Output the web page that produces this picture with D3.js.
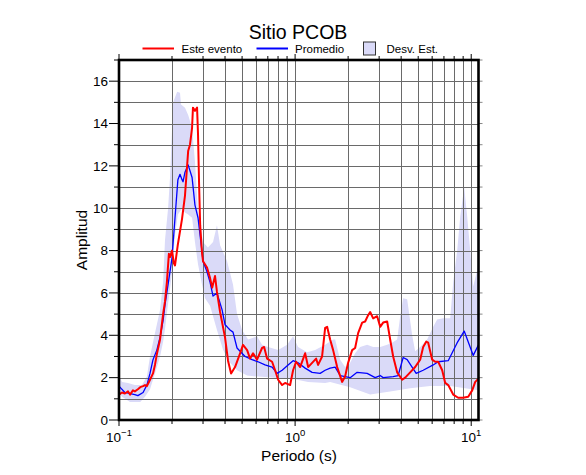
<!DOCTYPE html>
<html>
<head>
<meta charset="utf-8">
<script src="https://cdn.jsdelivr.net/npm/d3@7/dist/d3.min.js"></script>
<style>
  body { margin: 0; background: #fff; }
  svg { display: block; font-family: "Liberation Sans", Arial, Helvetica, sans-serif; }
</style>
</head>
<body>
<div id="chart"></div>
<script>
// Este evento (red)
const eventPeriod = [0.100, 0.104, 0.108, 0.1125, 0.1155, 0.12, 0.123, 0.128, 0.132, 0.137, 0.1405, 0.144, 0.150, 0.156, 0.160, 0.164, 0.171, 0.178, 0.1825, 0.187, 0.192, 0.195, 0.200, 0.205, 0.208, 0.216, 0.228, 0.237, 0.247, 0.253, 0.260, 0.263, 0.270, 0.2775, 0.281, 0.285, 0.289, 0.296, 0.300, 0.316, 0.329, 0.338, 0.351, 0.360, 0.375, 0.400, 0.416, 0.433, 0.456, 0.487, 0.506, 0.534, 0.555, 0.577, 0.608, 0.649, 0.667, 0.693, 0.740, 0.770, 0.801, 0.844, 0.877, 0.937, 0.974, 1.013, 1.068, 1.140, 1.186, 1.249, 1.316, 1.351, 1.423, 1.481, 1.520, 1.581, 1.644, 1.733, 1.849, 1.923, 2.000, 2.108, 2.192, 2.280, 2.403, 2.499, 2.599, 2.668, 2.775, 2.924, 3.041, 3.162, 3.332, 3.466, 3.604, 3.797, 4.055, 4.217, 4.502, 4.806, 5.131, 5.337, 5.551, 5.698, 6.003, 6.244, 6.494, 6.843, 7.118, 7.404, 7.902, 8.435, 9.005, 9.616, 10.13, 10.54, 11.0];
const eventAmp = [1.2, 1.3, 1.25, 1.35, 1.2, 1.4, 1.35, 1.45, 1.55, 1.6, 1.65, 1.6, 1.9, 2.2, 2.6, 3.1, 3.8, 5.0, 5.6, 6.5, 7.85, 7.7, 8.0, 7.4, 7.3, 8.3, 9.5, 10.6, 12.7, 13.0, 13.8, 14.75, 14.6, 14.75, 13.5, 11.1, 9.2, 7.9, 7.5, 7.2, 6.7, 6.25, 6.8, 6.05, 5.1, 3.9, 2.8, 2.2, 2.5, 3.15, 3.55, 3.3, 2.9, 3.15, 2.85, 3.4, 3.45, 2.9, 2.75, 2.35, 1.9, 1.65, 1.75, 1.65, 2.35, 2.75, 2.5, 3.15, 2.5, 2.7, 2.9, 2.6, 3.0, 4.35, 4.4, 3.8, 3.3, 2.5, 1.8, 2.05, 2.7, 3.3, 3.4, 4.1, 4.6, 4.65, 4.95, 5.1, 4.8, 4.9, 4.4, 4.6, 4.65, 3.8, 3.0, 2.25, 1.9, 2.0, 2.25, 2.5, 2.85, 3.45, 3.7, 3.65, 2.85, 2.75, 2.75, 2.35, 1.75, 1.65, 1.2, 1.05, 1.05, 1.1, 1.4, 1.8, 1.95];

// Promedio (blue)
const meanPeriod = [0.100, 0.108, 0.123, 0.128, 0.137, 0.144, 0.150, 0.156, 0.164, 0.171, 0.178, 0.1825, 0.190, 0.200, 0.208, 0.216, 0.222, 0.228, 0.231, 0.237, 0.247, 0.260, 0.270, 0.281, 0.296, 0.300, 0.316, 0.329, 0.342, 0.360, 0.385, 0.400, 0.411, 0.427, 0.444, 0.468, 0.487, 0.520, 0.570, 0.616, 0.675, 0.740, 0.790, 0.844, 0.9125, 0.974, 1.040, 1.140, 1.249, 1.387, 1.481, 1.581, 1.688, 1.802, 1.923, 2.054, 2.250, 2.565, 2.849, 3.041, 3.162, 3.604, 3.847, 4.108, 4.329, 4.870, 5.337, 6.082, 6.494, 7.404, 8.326, 9.124, 10.27, 11.0];
const meanAmp = [1.6, 1.3, 1.2, 1.15, 1.3, 1.65, 2.2, 2.85, 3.3, 3.9, 4.7, 5.45, 6.4, 7.65, 9.55, 11.35, 11.6, 11.35, 11.25, 11.7, 12.05, 11.45, 10.15, 9.55, 7.95, 7.5, 7.0, 6.5, 5.85, 6.0, 5.2, 4.5, 4.4, 4.25, 4.15, 3.4, 3.25, 3.0, 2.85, 2.75, 2.6, 2.5, 2.2, 2.35, 2.6, 2.8, 2.7, 2.45, 2.25, 2.2, 2.35, 2.45, 2.5, 2.1, 2.05, 2.0, 2.25, 2.2, 2.0, 2.1, 2.0, 2.05, 2.1, 2.95, 2.85, 2.2, 2.35, 2.6, 2.75, 2.8, 3.65, 4.2, 3.05, 3.55];

// Desv. Est. band: upper and lower edges
const upperPeriod = [0.100, 0.104, 0.1125, 0.123, 0.135, 0.144, 0.150, 0.160, 0.171, 0.178, 0.1825, 0.190, 0.195, 0.203, 0.214, 0.222, 0.225, 0.237, 0.247, 0.260, 0.270, 0.281, 0.300, 0.320, 0.342, 0.360, 0.375, 0.411, 0.444, 0.468, 0.500, 0.541, 0.608, 0.649, 0.702, 0.801, 0.901, 0.974, 1.040, 1.170, 1.299, 1.481, 1.644, 1.688, 1.802, 1.923, 2.054, 2.192, 2.340, 2.565, 2.775, 3.041, 3.332, 3.557, 3.797, 3.952, 4.108, 4.329, 4.621, 4.806, 5.131, 5.623, 6.082, 6.410, 6.934, 7.598, 7.902, 8.326, 8.660, 9.124, 9.491, 9.870, 10.27, 10.82, 11.0];
const upperAmp = [2.1, 1.8, 1.75, 1.65, 1.65, 2.05, 3.0, 4.1, 5.2, 6.5, 8.5, 10.0, 11.5, 15.0, 15.5, 15.45, 14.9, 14.75, 14.4, 13.8, 12.2, 9.85, 8.4, 8.15, 8.4, 9.2, 8.25, 7.5, 6.4, 5.0, 4.25, 3.8, 3.95, 3.55, 3.45, 3.3, 3.55, 3.95, 3.45, 3.2, 3.3, 3.55, 3.8, 3.8, 2.85, 2.5, 2.7, 3.15, 3.45, 3.55, 3.45, 3.45, 3.55, 3.65, 3.8, 4.9, 5.75, 5.7, 4.0, 3.25, 3.45, 3.8, 4.4, 4.75, 4.8, 4.8, 6.5, 8.0, 9.6, 11.0, 9.6, 8.0, 6.3, 7.1, 7.6];
const lowerPeriod = [0.100, 0.104, 0.1155, 0.132, 0.1405, 0.150, 0.160, 0.171, 0.178, 0.1825, 0.190, 0.195, 0.200, 0.208, 0.216, 0.228, 0.237, 0.247, 0.260, 0.270, 0.281, 0.296, 0.308, 0.329, 0.360, 0.390, 0.427, 0.468, 0.534, 0.616, 0.770, 0.962, 1.186, 1.481, 1.581, 2.054, 2.668, 3.466, 4.502, 5.848, 7.598, 11.0];
const lowerAmp = [1.3, 1.1, 0.85, 0.85, 1.1, 1.45, 2.2, 3.0, 3.7, 4.3, 5.5, 6.2, 7.0, 8.75, 9.7, 10.0, 9.8, 9.7, 9.55, 8.4, 7.35, 6.4, 5.75, 5.4, 4.25, 3.3, 2.7, 2.35, 2.1, 2.05, 2.0, 1.95, 1.8, 1.75, 1.8, 1.55, 1.2, 1.35, 1.5, 1.6, 1.6, 1.4];

const yTickValues = [0, 2, 4, 6, 8, 10, 12, 14, 16];
const xDecades = [0.1, 1, 10];
const xDecadeExp = ["\u22121", "0", "1"];
const legendLabels = ["Este evento", "Promedio", "Desv. Est."];

const W = 586, H = 475;
const plot = { left: 119, right: 478.5, top: 60, bottom: 420 };

const x = d3.scaleLog().domain([0.1, 11]).range([plot.left, plot.right]);
const y = d3.scaleLinear().domain([0, 17]).range([plot.bottom, plot.top]);

const svg = d3.select("#chart").append("svg")
  .attr("width", W)
  .attr("height", H);

svg.append("defs").append("clipPath").attr("id", "clip")
  .append("rect")
  .attr("x", plot.left).attr("y", plot.top)
  .attr("width", plot.right - plot.left).attr("height", plot.bottom - plot.top);

const zip = (ps, as) => ps.map((p, i) => [p, as[i]]);
const eventData = zip(eventPeriod, eventAmp);
const meanData = zip(meanPeriod, meanAmp);
const bandData = zip(upperPeriod, upperAmp).concat(zip(lowerPeriod, lowerAmp).reverse());

const line = d3.line().x(d => x(d[0])).y(d => y(d[1]));

const inner = svg.append("g").attr("clip-path", "url(#clip)");

// std band
inner.append("path")
  .attr("d", line(bandData) + "Z")
  .attr("fill", "#dadaf8")
  .attr("stroke", "none");

// grid
const minorX = x.ticks();
const minorY = d3.range(1, 17);
inner.append("g").selectAll("line").data(minorX).enter().append("line")
  .attr("x1", d => Math.round(x(d)) + 0.5).attr("x2", d => Math.round(x(d)) + 0.5)
  .attr("y1", plot.top).attr("y2", plot.bottom)
  .attr("stroke", "#6a6a6a").attr("stroke-width", 1);
inner.append("g").selectAll("line").data(minorY).enter().append("line")
  .attr("y1", d => Math.round(y(d)) + 0.5).attr("y2", d => Math.round(y(d)) + 0.5)
  .attr("x1", plot.left).attr("x2", plot.right)
  .attr("stroke", "#6a6a6a").attr("stroke-width", 1);

// curves
inner.append("path").datum(meanData)
  .attr("d", line)
  .attr("fill", "none").attr("stroke", "#0000ff").attr("stroke-width", 1.3)
  .attr("stroke-linejoin", "round");
inner.append("path").datum(eventData)
  .attr("d", line)
  .attr("fill", "none").attr("stroke", "#ff0000").attr("stroke-width", 2)
  .attr("stroke-linejoin", "round");

// ticks on all sides
const ticks = svg.append("g").attr("stroke", "#000").attr("stroke-width", 1);
const isDecade = d => xDecades.some(v => Math.abs(v - d) < 1e-9);
ticks.selectAll(".tb").data(minorX).enter().append("line")
  .attr("x1", d => x(d)).attr("x2", d => x(d))
  .attr("y1", plot.bottom).attr("y2", d => plot.bottom + (isDecade(d) ? 6 : 4));
ticks.selectAll(".tt").data(minorX).enter().append("line")
  .attr("x1", d => x(d)).attr("x2", d => x(d))
  .attr("y1", plot.top).attr("y2", d => plot.top - (isDecade(d) ? 6 : 4));
ticks.selectAll(".tl").data(d3.range(0, 18)).enter().append("line")
  .attr("y1", d => y(d)).attr("y2", d => y(d))
  .attr("x1", plot.left).attr("x2", d => plot.left - (d % 2 === 0 && d < 17 ? 10 : 5));
ticks.selectAll(".tr").data(d3.range(0, 18)).enter().append("line")
  .attr("y1", d => y(d)).attr("y2", d => y(d))
  .attr("x1", plot.right).attr("x2", plot.right + 4)
  .attr("stroke", "#888");

// frame
svg.append("rect")
  .attr("x", plot.left).attr("y", plot.top)
  .attr("width", plot.right - plot.left).attr("height", plot.bottom - plot.top)
  .attr("fill", "none").attr("stroke", "#000").attr("stroke-width", 2.6);

// y tick labels
svg.append("g").selectAll("text").data(yTickValues).enter().append("text")
  .attr("x", plot.left - 11)
  .attr("y", d => y(d) + 4.7)
  .attr("text-anchor", "end")
  .attr("font-size", 13.5)
  .text(d => d);

// x tick labels
const xl = svg.append("g").selectAll("text").data(xDecades).enter().append("text")
  .attr("x", d => x(d))
  .attr("y", 442)
  .attr("text-anchor", "middle")
  .attr("font-size", 13.5);
xl.append("tspan").text("10");
xl.append("tspan").attr("dy", -6).attr("font-size", 9.5).text((d, i) => xDecadeExp[i]);

// axis titles
svg.append("text")
  .attr("x", 299).attr("y", 461)
  .attr("text-anchor", "middle").attr("font-size", 15.5)
  .text("Periodo (s)");
svg.append("text")
  .attr("transform", "translate(87,240) rotate(-90)")
  .attr("text-anchor", "middle").attr("font-size", 15.5)
  .text("Amplitud");

// title
svg.append("text")
  .attr("x", 298).attr("y", 39)
  .attr("text-anchor", "middle").attr("font-size", 19.5)
  .text("Sitio PCOB");

// legend
const leg = svg.append("g").attr("font-size", 11.5);
leg.append("line").attr("x1", 142.5).attr("x2", 174).attr("y1", 48.5).attr("y2", 48.5)
  .attr("stroke", "#ff0000").attr("stroke-width", 2);
leg.append("text").attr("x", 181.5).attr("y", 52.5).text(legendLabels[0]);
leg.append("line").attr("x1", 256.5).attr("x2", 288).attr("y1", 48.5).attr("y2", 48.5)
  .attr("stroke", "#0000ff").attr("stroke-width", 2);
leg.append("text").attr("x", 295).attr("y", 52.5).text(legendLabels[1]);
leg.append("rect").attr("x", 363.5).attr("y", 42).attr("width", 12).attr("height", 13)
  .attr("fill", "#dadaf8").attr("stroke", "#333").attr("stroke-width", 1);
leg.append("text").attr("x", 386.5).attr("y", 52.5).text(legendLabels[2]);
</script>
</body>
</html>
